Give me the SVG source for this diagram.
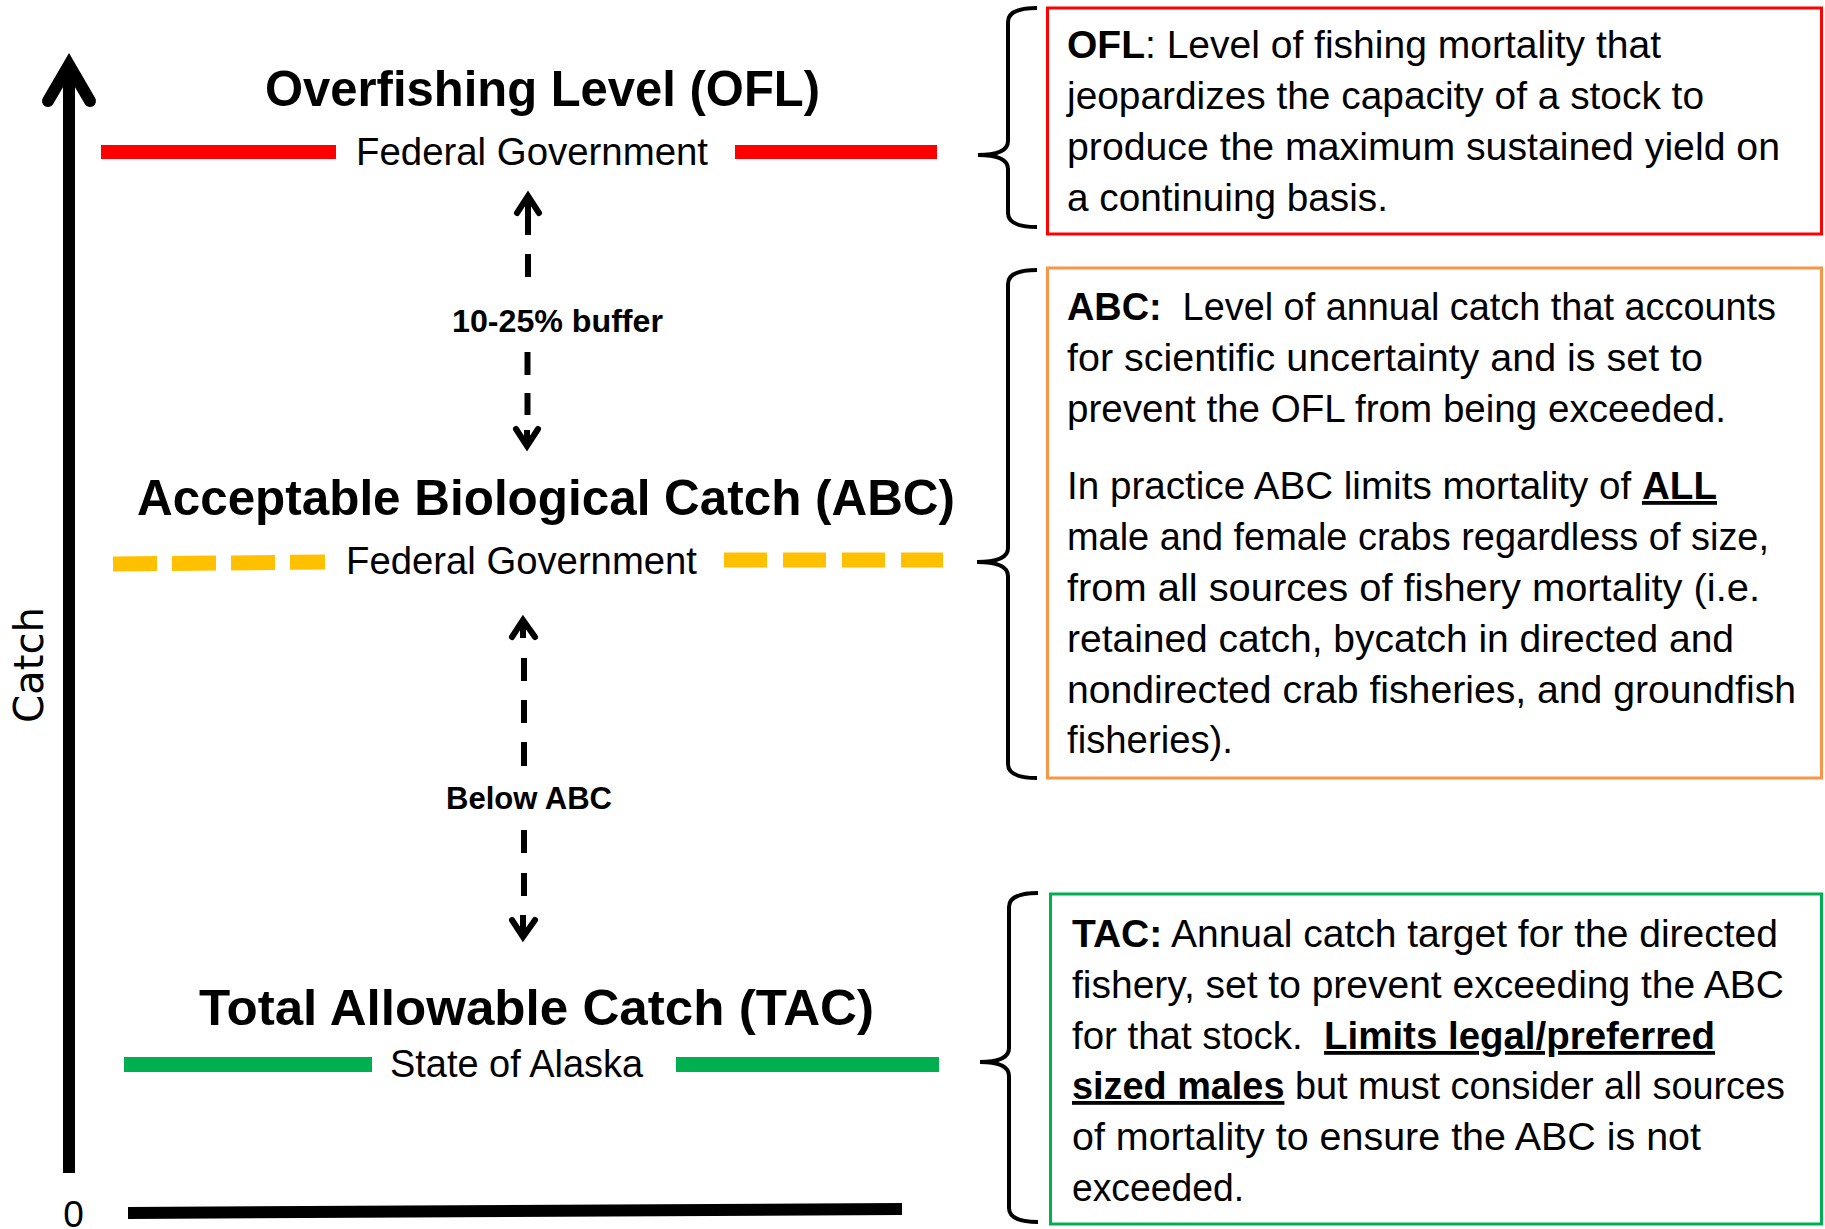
<svg xmlns="http://www.w3.org/2000/svg" width="1825" height="1229" viewBox="0 0 1825 1229">
<style>
text{font-family:"Liberation Sans",Arial,sans-serif;fill:#000}
.title{font-weight:bold;font-size:50px}
.sub{font-size:38px}
.body{font-size:38px}
.lbl{font-weight:bold;font-size:32px}
.b{font-weight:bold}
.u{text-decoration:underline}
.dash{stroke:#000;stroke-width:6;fill:none}
.head{stroke:#000;stroke-width:6;fill:none;stroke-linejoin:miter;stroke-linecap:round}
.brace{stroke:#000;stroke-width:4;fill:none}
</style>
<rect width="1825" height="1229" fill="#fff"/>

<g id="axes">
  <line x1="69" y1="65" x2="69" y2="1173" stroke="#000" stroke-width="12"/>
  <polyline points="48,101 69,65 90,101" fill="none" stroke="#000" stroke-width="12" stroke-linecap="round" stroke-linejoin="miter"/>
  <line x1="128" y1="1213" x2="902" y2="1209" stroke="#000" stroke-width="12"/>
  <text x="73.5" y="1227" text-anchor="middle" style="font-size:37px">0</text>
  <text transform="translate(43,665) rotate(-90)" text-anchor="middle" style="font-family:'DejaVu Sans',sans-serif;font-size:40px" textLength="116" lengthAdjust="spacingAndGlyphs">Catch</text>
</g>

<g id="ofl">
  <text class="title" x="265" y="106" textLength="555" lengthAdjust="spacingAndGlyphs">Overfishing Level (OFL)</text>
  <rect x="101" y="145" width="235" height="14" fill="#FF0000"/>
  <rect x="735" y="145" width="202" height="14" fill="#FF0000"/>
  <text class="sub" x="356" y="165" textLength="352" lengthAdjust="spacingAndGlyphs">Federal Government</text>
</g>

<g id="abc">
  <text class="title" x="137" y="515" textLength="818" lengthAdjust="spacingAndGlyphs">Acceptable Biological Catch (ABC)</text>
  <line x1="113" y1="564" x2="325" y2="562" stroke="#FFC000" stroke-width="15" stroke-dasharray="44 15"/>
  <line x1="724" y1="560" x2="943" y2="560" stroke="#FFC000" stroke-width="15" stroke-dasharray="43 16"/>
  <text class="sub" x="346" y="574" textLength="351" lengthAdjust="spacingAndGlyphs">Federal Government</text>
</g>

<g id="tac">
  <text class="title" x="199" y="1025" textLength="675" lengthAdjust="spacingAndGlyphs">Total Allowable Catch (TAC)</text>
  <rect x="124" y="1057" width="248" height="15" fill="#00B050"/>
  <rect x="676" y="1057" width="263" height="15" fill="#00B050"/>
  <text class="sub" x="390" y="1077" textLength="253" lengthAdjust="spacingAndGlyphs">State of Alaska</text>
</g>

<g id="connectors">
  <polyline class="head" points="517,213 528,196 539,213"/>
  <line class="dash" x1="528" y1="198" x2="528" y2="235"/>
  <line class="dash" x1="528" y1="254" x2="528" y2="277"/>
  <line class="dash" x1="527.5" y1="352" x2="527.5" y2="375"/>
  <line class="dash" x1="527.5" y1="393" x2="527.5" y2="415"/>
  <line class="dash" x1="527" y1="430" x2="527" y2="446"/>
  <polyline class="head" points="516,429 527,446 538,429"/>

  <polyline class="head" points="512,637 523,620 535,637"/>
  <line class="dash" x1="523" y1="622" x2="523" y2="638"/>
  <line class="dash" x1="524" y1="658" x2="524" y2="681"/>
  <line class="dash" x1="524" y1="700" x2="524" y2="723"/>
  <line class="dash" x1="524" y1="742" x2="524" y2="766"/>
  <line class="dash" x1="524" y1="830" x2="524" y2="853"/>
  <line class="dash" x1="524" y1="873" x2="524" y2="896"/>
  <line class="dash" x1="523" y1="915" x2="523" y2="937"/>
  <polyline class="head" points="512,920 523,937 535,920"/>

  <path class="brace" d="M1037,8 Q1008,8 1008,22 L1008,141 Q1008,155 978,155 Q1008,155 1008,169 L1008,213 Q1008,227 1037,227"/>
  <path class="brace" d="M1037,270 Q1008,270 1008,284 L1008,548 Q1008,562 977,562 Q1008,562 1008,576 L1008,764 Q1008,778 1037,778"/>
  <path class="brace" d="M1038,893 Q1009,893 1009,907 L1009,1048 Q1009,1062 980,1062 Q1009,1062 1009,1076 L1009,1208 Q1009,1222 1038,1222"/>
</g>

<g id="labels">
  <text class="lbl" x="452" y="332" textLength="211" lengthAdjust="spacingAndGlyphs">10-25% buffer</text>
  <text class="lbl" x="446" y="809" textLength="166" lengthAdjust="spacingAndGlyphs">Below ABC</text>
</g>

<g id="ofl-def">
  <rect x="1047.5" y="8" width="774" height="226" fill="none" stroke="#FF0000" stroke-width="3"/>
  <text class="body" x="1067" y="58" textLength="594" lengthAdjust="spacingAndGlyphs"><tspan class="b">OFL</tspan>: Level of fishing mortality that</text>
  <text class="body" x="1067" y="109" textLength="637" lengthAdjust="spacingAndGlyphs">jeopardizes the capacity of a stock to</text>
  <text class="body" x="1067" y="160" textLength="713" lengthAdjust="spacingAndGlyphs">produce the maximum sustained yield on</text>
  <text class="body" x="1067" y="211" textLength="321" lengthAdjust="spacingAndGlyphs">a continuing basis.</text>
</g>

<g id="abc-def">
  <rect x="1047.5" y="268" width="774" height="510" fill="none" stroke="#F79646" stroke-width="3"/>
  <text class="body" x="1067" y="320" textLength="709" lengthAdjust="spacingAndGlyphs" xml:space="preserve"><tspan class="b">ABC:</tspan>  Level of annual catch that accounts</text>
  <text class="body" x="1067" y="371" textLength="636" lengthAdjust="spacingAndGlyphs">for scientific uncertainty and is set to</text>
  <text class="body" x="1067" y="422" textLength="659" lengthAdjust="spacingAndGlyphs">prevent the OFL from being exceeded.</text>
  <text class="body" x="1067" y="499" textLength="650" lengthAdjust="spacingAndGlyphs">In practice ABC limits mortality of <tspan class="b u">ALL</tspan></text>
  <text class="body" x="1067" y="550" textLength="702" lengthAdjust="spacingAndGlyphs">male and female crabs regardless of size,</text>
  <text class="body" x="1067" y="601" textLength="693" lengthAdjust="spacingAndGlyphs">from all sources of fishery mortality (i.e.</text>
  <text class="body" x="1067" y="652" textLength="667" lengthAdjust="spacingAndGlyphs">retained catch, bycatch in directed and</text>
  <text class="body" x="1067" y="703" textLength="729" lengthAdjust="spacingAndGlyphs">nondirected crab fisheries, and groundfish</text>
  <text class="body" x="1067" y="753" textLength="166" lengthAdjust="spacingAndGlyphs">fisheries).</text>
</g>

<g id="tac-def">
  <rect x="1050.5" y="894" width="771" height="330" fill="none" stroke="#00B050" stroke-width="3"/>
  <text class="body" x="1072" y="947" textLength="706" lengthAdjust="spacingAndGlyphs"><tspan class="b">TAC:</tspan> Annual catch target for the directed</text>
  <text class="body" x="1072" y="998" textLength="712" lengthAdjust="spacingAndGlyphs">fishery, set to prevent exceeding the ABC</text>
  <text class="body" x="1072" y="1049" textLength="643" lengthAdjust="spacingAndGlyphs" xml:space="preserve">for that stock.  <tspan class="b u">Limits legal/preferred</tspan></text>
  <text class="body" x="1072" y="1099" textLength="713" lengthAdjust="spacingAndGlyphs"><tspan class="b u">sized males</tspan> but must consider all sources</text>
  <text class="body" x="1072" y="1150" textLength="629" lengthAdjust="spacingAndGlyphs">of mortality to ensure the ABC is not</text>
  <text class="body" x="1072" y="1201" textLength="172" lengthAdjust="spacingAndGlyphs">exceeded.</text>
</g>
</svg>
